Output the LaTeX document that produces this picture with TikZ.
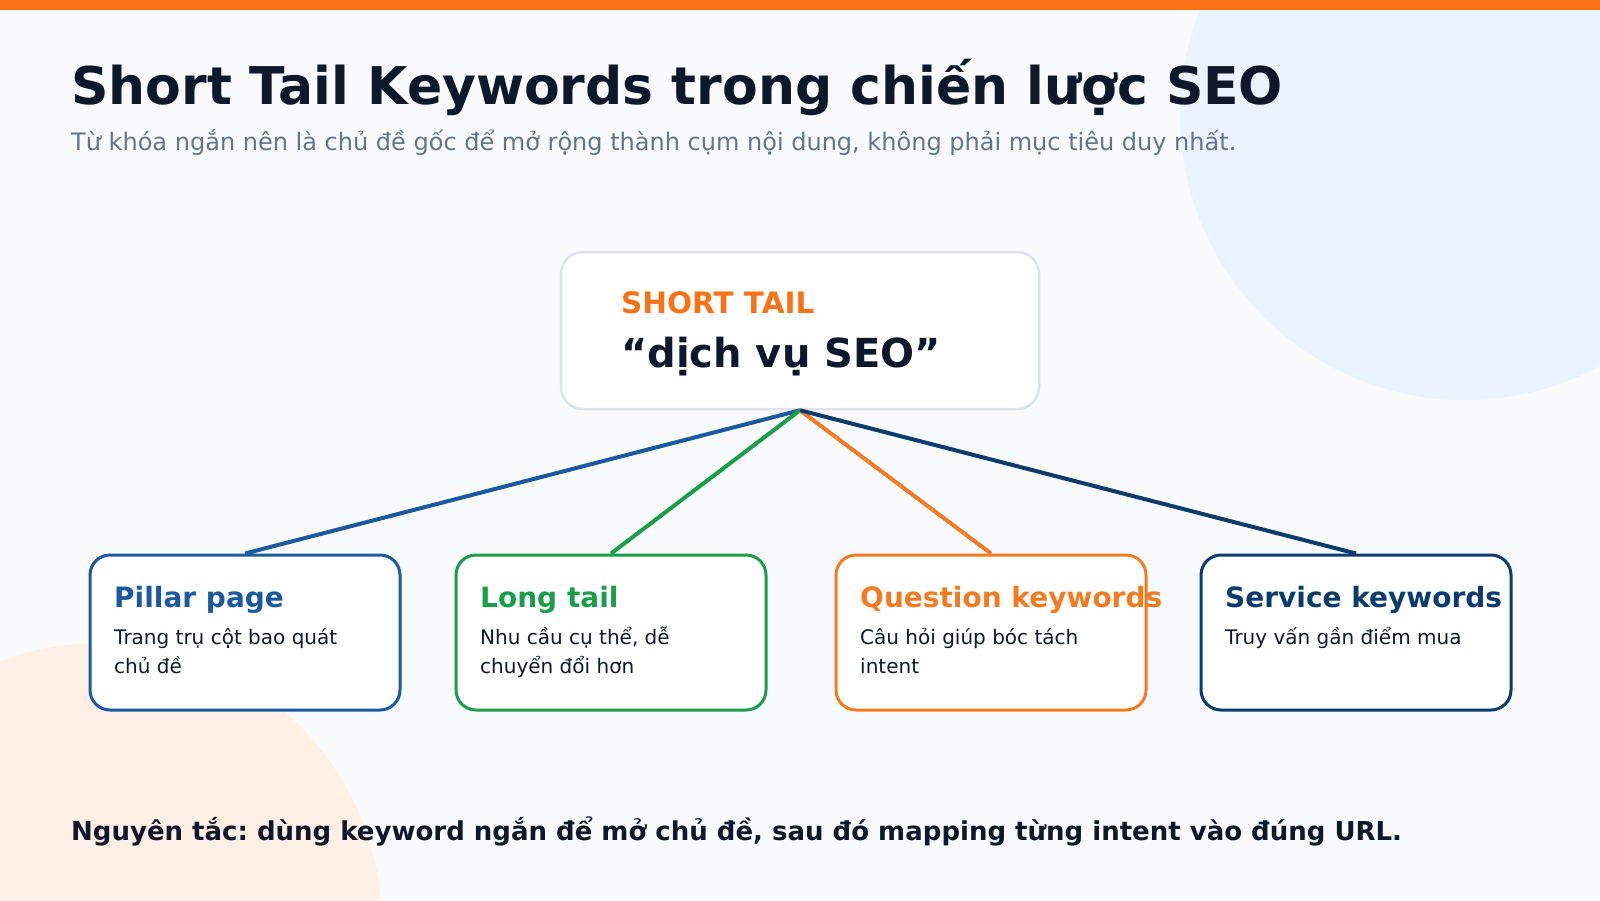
\documentclass[tikz,border=0pt]{standalone}
\usepackage{fontspec}
\setmainfont{DejaVu Sans}
\frenchspacing
\definecolor{bgc}{HTML}{F8FAFC}
\definecolor{barc}{HTML}{F97316}
\definecolor{titlec}{HTML}{0F172A}
\definecolor{subc}{HTML}{64748B}
\definecolor{bluecirc}{HTML}{EAF3FE}
\definecolor{peachcirc}{HTML}{FFF0E6}
\definecolor{cboxline}{HTML}{DCE3EB}
\definecolor{pillarc}{HTML}{1B5AA0}
\definecolor{longc}{HTML}{1A9E4B}
\definecolor{questc}{HTML}{F47B20}
\definecolor{servc}{HTML}{0C3B6E}
\definecolor{textc}{HTML}{111827}
\tikzset{
  childbox/.style={draw=#1, line width=3pt, fill=white, rounded corners=20pt, minimum width=310pt, minimum height=155pt, inner sep=0pt},
  centerbox/.style={draw=cboxline, line width=2.5pt, fill=white, rounded corners=22pt, minimum width=478pt, minimum height=157pt, inner sep=0pt},
  link/.style={draw=#1, line width=4pt},
  lbl/.style={anchor=base west, inner sep=0pt},
  ctitle/.style={lbl, text=#1, font=\bfseries\fontsize{28}{34}\selectfont},
  cdesc/.style={lbl, text=textc, font=\fontsize{20}{29}\selectfont, align=left},
}
\begin{document}
\begin{tikzpicture}[x=1pt,y=-1pt]
\useasboundingbox (0,0) rectangle (1600,900);
\fill[bgc] (0,0) rectangle (1600,900);
\begin{scope}
\clip (0,0) rectangle (1600,900);
\fill[bluecirc] (1465,115) circle (285);
\fill[peachcirc] (100,925) circle (282);
\end{scope}
\fill[barc] (0,0) rectangle (1600,10);

\node[lbl, text=titlec, font=\bfseries\fontsize{52}{60}\selectfont] (title) at (71,104) {Short Tail Keywords trong chiến lược SEO};
\node[lbl, text=subc, font=\fontsize{24}{28}\selectfont] (subtitle) at (71,150) {Từ khóa ngắn nên là chủ đề gốc để mở rộng thành cụm nội dung, không phải mục tiêu duy nhất.};

\node[centerbox] (center) at (800,330.5) {};
\node[lbl, text=barc, font=\bfseries\fontsize{29.5}{34}\selectfont] (shorttail) at (621,313) {SHORT TAIL};
\node[lbl, text=titlec, font=\bfseries\fontsize{40}{48}\selectfont] (kw) at (621,367) {“dịch vụ SEO”};

\node[childbox=pillarc] (pillar) at (245,632.5) {};
\node[childbox=longc] (long) at (611,632.5) {};
\node[childbox=questc] (quest) at (991,632.5) {};
\node[childbox=servc] (serv) at (1356,632.5) {};

\draw[link=pillarc] (center.south) -- (pillar.north);
\draw[link=longc] (center.south) -- (long.north);
\draw[link=questc] (center.south) -- (quest.north);
\draw[link=servc] (center.south) -- (serv.north);

\node[ctitle=pillarc] (pt) at (114,607) {Pillar page};
\node[cdesc] (pd) at (114,673) {Trang trụ cột bao quát\\chủ đề};
\node[ctitle=longc] (lt) at (480,607) {Long tail};
\node[cdesc] (ld) at (480,673) {Nhu cầu cụ thể, dễ\\chuyển đổi hơn};
\node[ctitle=questc] (qt) at (860,607) {Question keywords};
\node[cdesc] (qd) at (860,673) {Câu hỏi giúp bóc tách\\intent};
\node[ctitle=servc] (st) at (1225,607) {Service keywords};
\node[cdesc] (sd) at (1225,644) {Truy vấn gần điểm mua};

\node[lbl, text=titlec, font=\bfseries\fontsize{26}{30}\selectfont] (rule) at (71,840) {Nguyên tắc: dùng keyword ngắn để mở chủ đề, sau đó mapping từng intent vào đúng URL.};
\end{tikzpicture}
\end{document}
